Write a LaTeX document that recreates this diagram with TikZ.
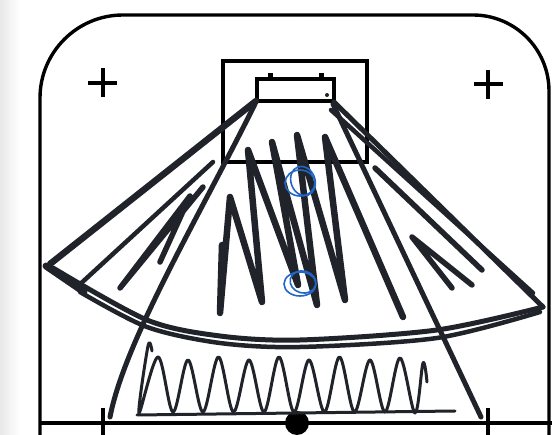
\documentclass[tikz,border=0pt]{standalone}
\usetikzlibrary{calc}
\definecolor{ink}{HTML}{202329}
\definecolor{bluepen}{HTML}{2166C6}
\begin{document}
\begin{tikzpicture}[x=1pt,y=-1pt,
  frame/.style={line width=3.4pt, draw=black},
  marker/.style={line width=6pt, draw=ink, line cap=round, line join=round},
  thinmarker/.style={line width=3pt, draw=ink, line cap=round, line join=round},
  pen/.style={line width=1.6pt, draw=bluepen, line cap=round}]
\useasboundingbox (0,0) rectangle (552,435);
\clip (0,0) rectangle (552,435);
\fill[white] (0,0) rectangle (552,435);
\shade[left color=gray!18, right color=white] (0,0) rectangle (20,435);

% named anchor points
\coordinate (boxL) at (256,101);
\coordinate (boxR) at (334,102);
\coordinate (wingL) at (50,264);
\coordinate (wingR) at (543,307);
\coordinate (footL) at (110,417);
\coordinate (footR) at (481,417);

% rounded frame
\draw[frame, rounded corners=83pt] (40,445) -- (40,15) -- (300,15);
\draw[frame, rounded corners=76pt] (300,15) -- (549,15) -- (549,445);

% plus signs
\draw[line width=4pt] (88,83) -- (117,83) (102.5,68) -- (102.5,97);
\draw[line width=4pt] (474,84) -- (503,84) (488,70) -- (488,99);

% bottom line, ticks, dot
\draw[line width=3.4pt] (40,423) -- (552,423);
\draw[line width=4pt] (103,408) -- (103,440) (488,408) -- (488,440);
\fill (297,423) circle (12);

% box and inner rectangle
\draw[line width=4.2pt] (223,61) rectangle (367,162);
\draw[line width=3.4pt] (257,79) rectangle (334,101);
\fill (268,73) rectangle (273,79);
\fill (319,73) rectangle (324,79);
\fill[ink] (327,95) circle (2);

% fan outline
\draw[marker, line width=6.5pt] (boxL) -- (wingL);
\draw[marker, line width=7pt] (46,266) -- (84,292);
\draw[marker, line width=5pt] (boxR) -- (wingR);
\draw[marker, line width=4.5pt] (331,110) -- (533,293);

% long lines to the bottom
\draw[marker, line width=5pt] (255,104) .. controls (200,215) and (125,340) .. (footL);
\draw[marker, line width=5pt] (333,104) -- (footR);

% double bottom arc
\draw[marker, line width=5pt] plot[smooth] coordinates {(53,268) (147,320) (220,336) (300,340) (437,330) (wingR)};
\draw[marker, line width=4.5pt] plot[smooth] coordinates {(80,292) (147,327) (220,343) (300,347) (437,338) (540,312)};

% left wing hatching
\draw[marker, line width=4.5pt] (77,287) -- (213,162);
\draw[marker, line width=5.5pt] (203,187) -- (120,288) -- (190,196) -- (160,262);

% right wing hatching
\draw[marker, line width=5.5pt] (375,168) -- (482,270);
\draw[marker, line width=5.5pt] (452,288) -- (412,237) -- (472,285);

% central scribble
\draw[marker, line width=6.5pt] (222,245) -- (220,313) -- (230,197) -- (262,302) -- (248,150)
  -- (298,285) -- (272,142) -- (317,305) -- (297,135) -- (345,300) -- (325,137) -- (403,317);

% zigzag and its base line
\draw[thinmarker] (137,415) -- (455,411);
\draw[thinmarker] plot[smooth, tension=0.55] coordinates {(152,351) (148,346) (139,413) (158,357) (173,412)
  (188,360) (203,412) (218.5,357) (233.5,412) (249,360) (264,412) (279,357) (294,412)
  (309,360) (324.5,412) (339.5,357) (354.5,412) (370,360) (385,412) (400,358) (415,413)
  (423,363) (427,382)};

% blue circles
\draw[pen] (300,183) ellipse (15 and 13);
\draw[pen, rotate around={20:(303,181)}] (303,181) ellipse (12 and 15);
\draw[pen] (300,284) ellipse (16 and 12);
\draw[pen, rotate around={-15:(303,282)}] (303,282) ellipse (13 and 11);
\end{tikzpicture}
\end{document}
